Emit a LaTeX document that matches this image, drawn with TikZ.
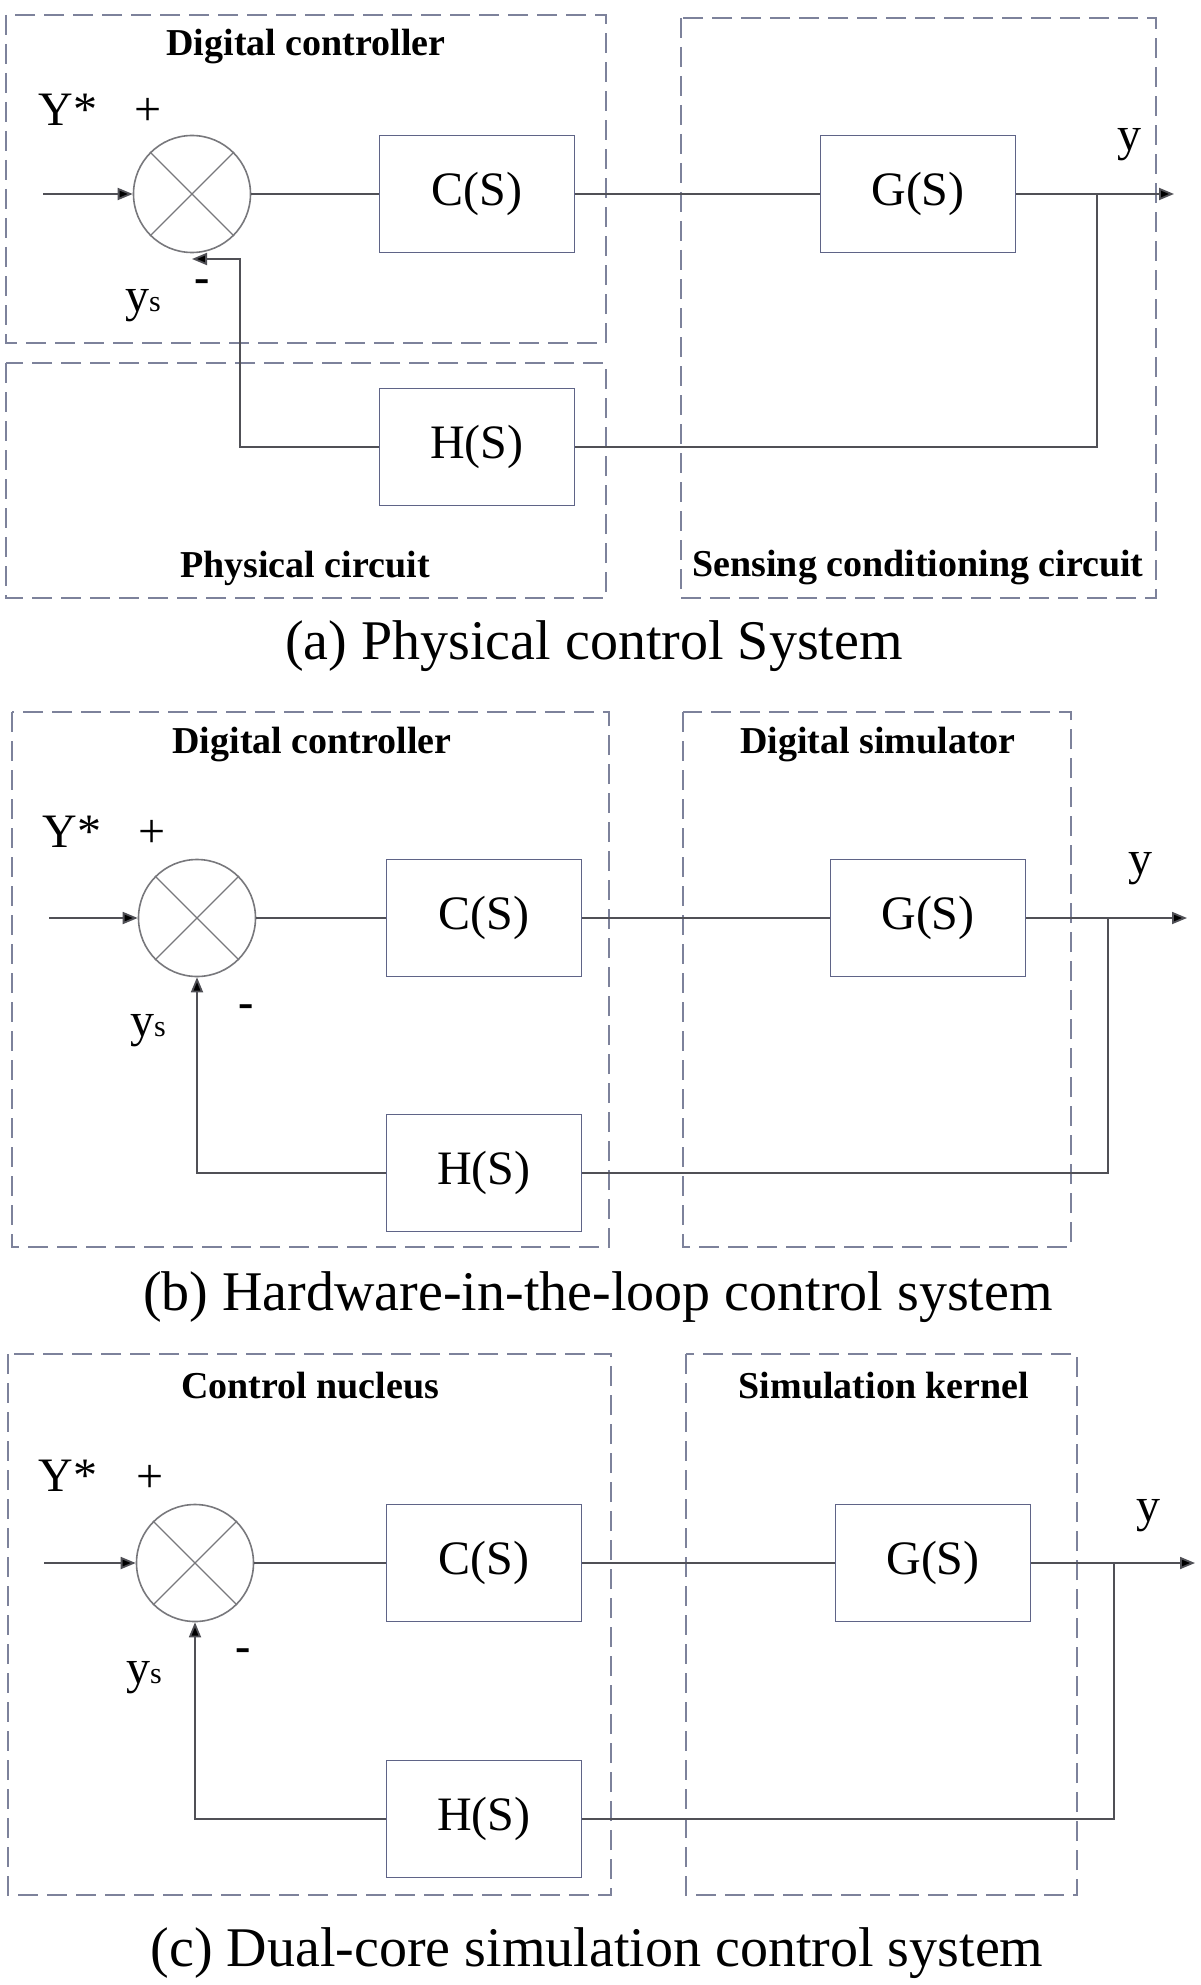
\documentclass[tikz,border=0pt]{standalone}
\usepackage{fontspec}
\setmainfont{Liberation Serif}
\usetikzlibrary{arrows.meta}

\definecolor{wirecol}{RGB}{80,80,86}
\definecolor{boxcol}{RGB}{95,100,135}
\definecolor{sumcol}{RGB}{120,120,124}
\definecolor{dashcol}{RGB}{125,130,155}

\tikzset{
  blk/.style={draw=boxcol, line width=1.8pt, minimum width=195pt, minimum height=117pt, inner sep=0pt, font=\fontsize{48}{48}\selectfont},
  sumnode/.style={circle, draw=sumcol, line width=1.6pt, minimum size=117pt, inner sep=0pt},
  region/.style={draw=dashcol, line width=1.8pt, dash pattern=on 20pt off 9pt},
  title/.style={font=\fontsize{38}{38}\selectfont\bfseries},
  lbl/.style={font=\fontsize{48}{48}\selectfont},
  minus/.style={font=\fontsize{46}{46}\selectfont\bfseries},
  caption/.style={font=\fontsize{56}{56}\selectfont},
  wire/.style={draw=wirecol, line width=1.8pt},
  sig/.style={wire, -{Triangle[length=15pt,width=12pt,fill=black]}},
}

\begin{document}
\begin{tikzpicture}[x=1pt,y=-1pt]

\useasboundingbox (0,0) rectangle (1200,1985);

% PANEL (a): regions
  \draw[region] (6,15) rectangle (606,343);
  \draw[region] (6,363) rectangle (606,598);
  \draw[region] (681,18) rectangle (1156,598);
  \node[title] (dca) at (306,47) {Digital controller};
  \node[title] (pca) at (305,568) {Physical circuit};
  \node[title] (sca) at (918,568) {Sensing conditioning circuit};

% PANEL (a): blocks
  \node[sumnode] (sa) at (192,194) {};
  \node[blk] (ca) at (477,194) {C(S)};
  \node[blk] (ga) at (918,194) {G(S)};
  \node[blk] (ha) at (477,447) {H(S)};
  \coordinate (ina) at (43,194);
  \coordinate (outa) at (1174,194);
  \coordinate (bra) at (1097,194);
  \coordinate (fba) at (192,259);

  \draw[sig] (ina) -- (sa);
  \draw[wire] (sa) -- (ca);
  \draw[wire] (ca) -- (ga);
  \draw[sig] (ga) -- (outa);
  \draw[wire] (bra) |- (ha);
  \draw[sig] (ha) -| (240,259) -- (fba);

  \node[lbl] (refa) at (68,110) {Y*};
  \node[lbl] (plusa) at (148,112) {+};
  \node[minus] (mina) at (202,286) {-};
  \node[lbl] (ysa) at (143,306) {y\fontsize{30}{30}\selectfont s};
  \node[lbl] (ya) at (1129,145) {y};
  \node[caption] (capa) at (594,646) {(a) Physical control System};

% PANEL (b): regions
  \draw[region] (12,712) rectangle (609,1247);
  \draw[region] (683,712) rectangle (1071,1247);
  \node[title] (dcb) at (312,745) {Digital controller};
  \node[title] (dsb) at (878,745) {Digital simulator};

% PANEL (b): blocks
  \node[sumnode] (sb) at (197,918) {};
  \node[blk] (cb) at (484,918) {C(S)};
  \node[blk] (gb) at (928,918) {G(S)};
  \node[blk] (hb) at (484,1173) {H(S)};
  \coordinate (inb) at (49,918);
  \coordinate (outb) at (1187,918);
  \coordinate (brb) at (1108,918);

  \draw[sig] (inb) -- (sb);
  \draw[wire] (sb) -- (cb);
  \draw[wire] (cb) -- (gb);
  \draw[sig] (gb) -- (outb);
  \draw[wire] (brb) |- (hb);
  \draw[sig] (hb) -| (sb);

  \node[lbl] (refb) at (72,832) {Y*};
  \node[lbl] (plusb) at (152,834) {+};
  \node[minus] (minb) at (246,1011) {-};
  \node[lbl] (ysb) at (148,1031) {y\fontsize{30}{30}\selectfont s};
  \node[lbl] (yb) at (1140,869) {y};
  \node[caption] (capb) at (598,1297) {(b) Hardware-in-the-loop control system};

% PANEL (c): regions
  \draw[region] (8,1354) rectangle (611,1895);
  \draw[region] (686,1354) rectangle (1077,1895);
  \node[title] (cnc) at (310,1386) {Control nucleus};
  \node[title] (skc) at (884,1386) {Simulation kernel};

% PANEL (c): blocks
  \node[sumnode] (sc) at (195,1563) {};
  \node[blk] (cc) at (484,1563) {C(S)};
  \node[blk] (gc) at (933,1563) {G(S)};
  \node[blk] (hc) at (484,1819) {H(S)};
  \coordinate (inc) at (44,1563);
  \coordinate (outc) at (1195,1563);
  \coordinate (brc) at (1114,1563);

  \draw[sig] (inc) -- (sc);
  \draw[wire] (sc) -- (cc);
  \draw[wire] (cc) -- (gc);
  \draw[sig] (gc) -- (outc);
  \draw[wire] (brc) |- (hc);
  \draw[sig] (hc) -| (sc);

  \node[lbl] (refc) at (68,1476) {Y*};
  \node[lbl] (plusc) at (150,1479) {+};
  \node[minus] (minc) at (243,1655) {-};
  \node[lbl] (ysc) at (144,1678) {y\fontsize{30}{30}\selectfont s};
  \node[lbl] (yc) at (1148,1516) {y};
  \node[caption] (capc) at (597,1953) {(c) Dual-core simulation control system};

% crosses in the summing junctions
  \foreach \s in {sa,sb,sc}{
    \draw[sumcol, line width=1.2pt] (\s.north west) -- (\s.south east);
    \draw[sumcol, line width=1.2pt] (\s.north east) -- (\s.south west);
  }
\end{tikzpicture}
\end{document}
